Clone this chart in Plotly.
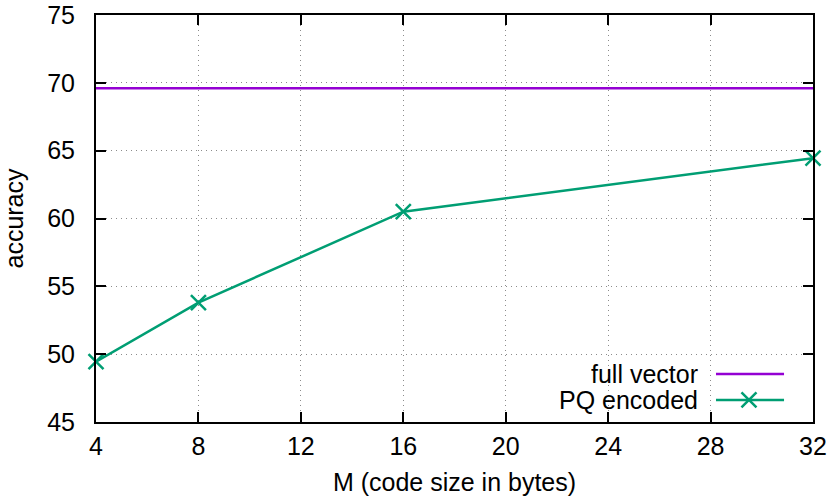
import plotly.graph_objects as go

# code size M (bytes) and accuracy
m_bytes = [4, 8, 16, 32]
pq_accuracy = [49.45, 53.8, 60.5, 64.45]
full_vector_accuracy = 69.6

x_ticks = [4, 8, 12, 16, 20, 24, 28, 32]
y_ticks = [45, 50, 55, 60, 65, 70, 75]

PURPLE = "#9400d3"
GREEN = "#009e73"
FONT = "Liberation Sans, Arial, Helvetica, sans-serif"
FS = 25

fig = go.Figure()

# full vector baseline spans the whole x range
fig.add_trace(go.Scatter(
    x=[m_bytes[0], m_bytes[-1]],
    y=[full_vector_accuracy, full_vector_accuracy],
    mode="lines",
    line=dict(color=PURPLE, width=2.5),
    name="full vector",
    showlegend=False,
))
fig.add_trace(go.Scatter(
    x=m_bytes, y=pq_accuracy,
    mode="lines+markers",
    line=dict(color=GREEN, width=2.5),
    marker=dict(symbol="x-thin", size=15, line=dict(color=GREEN, width=2.5)),
    name="PQ encoded",
    showlegend=False,
    cliponaxis=False,
))

# gnuplot-style key: text on the left, sample on the right
key = [("full vector", 0.1179, False), ("PQ encoded", 0.0541, True)]
key_colors = [PURPLE, GREEN]
for (label, ky, has_marker), col in zip(key, key_colors):
    fig.add_annotation(
        x=0.8424, y=ky, xref="paper", yref="paper",
        text=label, showarrow=False, xanchor="right", yanchor="middle",
        font=dict(family=FONT, size=FS, color="black"),
    )
    fig.add_shape(
        type="line", xref="paper", yref="paper",
        x0=0.8647, x1=0.9596, y0=ky, y1=ky,
        line=dict(color=col, width=2.5),
    )
# marker sample in the key, on an overlay axis in paper-like units
fig.add_trace(go.Scatter(
    x=[0.9107], y=[0.0541], xaxis="x2", yaxis="y2",
    mode="markers",
    marker=dict(symbol="x-thin", size=15, line=dict(color=GREEN, width=2.5)),
    showlegend=False, hoverinfo="skip",
))

axis_common = dict(
    showline=True, linecolor="black", linewidth=2, mirror="allticks",
    ticks="inside", ticklen=10, tickwidth=2, tickcolor="black",
    showgrid=True, gridcolor="#8c8c8c", gridwidth=1, griddash="1px,4px",
    zeroline=False, automargin=False,
    tickfont=dict(family=FONT, size=FS, color="black"),
)

fig.update_layout(
    width=830, height=499,
    margin=dict(l=96, r=17, t=15, b=77),
    plot_bgcolor="white", paper_bgcolor="white",
    font=dict(family=FONT, size=FS, color="black"),
    xaxis=dict(
        range=[4, 32], tickvals=x_ticks, ticklabelstandoff=1,
        title=dict(text="M (code size in bytes)", standoff=14,
                   font=dict(family=FONT, size=FS)),
        **axis_common,
    ),
    yaxis=dict(
        range=[45, 75], tickvals=y_ticks, ticklabelstandoff=14,
        title=dict(text="accuracy", standoff=28,
                   font=dict(family=FONT, size=FS)),
        **axis_common,
    ),
    xaxis2=dict(overlaying="x", range=[0, 1], visible=False, fixedrange=True),
    yaxis2=dict(overlaying="y", range=[0, 1], visible=False, fixedrange=True),
)

# drop the default page margin so the 830x499 figure fills the window
fig.write_html(
    "out.html",
    config={"displayModeBar": False},
    post_script="document.body.style.margin='0';",
)
